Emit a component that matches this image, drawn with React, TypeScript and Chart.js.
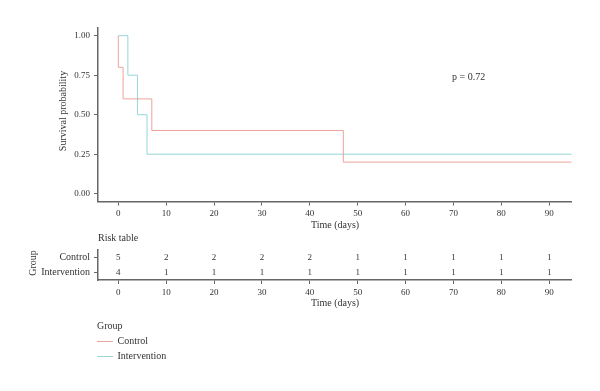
import React, { useEffect, useRef } from "react";
import { Chart, registerables } from "chart.js";

Chart.register(...registerables);

// ---- data ----
const controlTimes = [0, 0, 1, 7, 47, 94.7];
const controlSurv = [1, 0.8, 0.6, 0.4, 0.2, 0.2];
const interventionTimes = [0, 2, 4, 6, 94.7];
const interventionSurv = [1, 0.75, 0.5, 0.25, 0.25];
const yTicks = [0, 0.25, 0.5, 0.75, 1];
const xTicks = [0, 10, 20, 30, 40, 50, 60, 70, 80, 90];
const groups = ["Control", "Intervention"];
const riskControl = [5, 2, 2, 2, 2, 1, 1, 1, 1, 1];
const riskIntervention = [4, 1, 1, 1, 1, 1, 1, 1, 1, 1];
const pValueText = "p = 0.72";

const RED = "#EBA39B";
const CYAN = "#95D6D8";
const AXIS = "#666666";
const TEXT = "#333333";
const FONT = "'Liberation Serif', 'Times New Roman', serif";

const X_MIN = -4.24;
const X_MAX = 94.7;

const TOP_H = 240;
const RISK_TOP = 240;
const RISK_H = 70;

function xScaleOpts(height: number) {
  return {
    type: "linear" as const,
    min: X_MIN,
    max: X_MAX,
    afterBuildTicks: (s: any) => {
      s.ticks = xTicks.map((v) => ({ value: v }));
    },
    afterFit: (s: any) => {
      s.height = height;
    },
    grid: {
      display: true,
      drawOnChartArea: false,
      drawTicks: true,
      tickLength: 4,
      color: AXIS,
      lineWidth: 1,
    },
    border: { display: true, color: AXIS, width: 1.5 },
    ticks: {
      color: TEXT,
      font: { family: FONT, size: 9 },
      padding: 3,
      maxRotation: 0,
      autoSkip: false,
      callback: (v: any) => String(v),
    },
  };
}

const riskPlugin = {
  id: "riskText",
  afterDatasetsDraw(chart: any) {
    const { ctx, scales } = chart;
    const xs = scales.x;
    const ys = scales.y;
    ctx.save();
    ctx.fillStyle = TEXT;
    ctx.font = `9px ${FONT}`;
    ctx.textAlign = "center";
    ctx.textBaseline = "middle";
    const rows = [riskControl, riskIntervention];
    rows.forEach((row, ri) => {
      row.forEach((n, i) => {
        ctx.fillText(String(n), xs.getPixelForValue(xTicks[i]), ys.getPixelForValue(ri));
      });
    });
    ctx.restore();
  },
};

export default function App() {
  const mainRef = useRef<HTMLCanvasElement>(null);
  const riskRef = useRef<HTMLCanvasElement>(null);

  useEffect(() => {
    const main = new Chart(mainRef.current!, {
      type: "line",
      data: {
        datasets: [
          {
            label: "Control",
            data: controlTimes.map((t, i) => ({ x: t, y: controlSurv[i] })),
            borderColor: RED,
            borderWidth: 1,
            pointRadius: 0,
            stepped: "before",
            fill: false,
          },
          {
            label: "Intervention",
            data: interventionTimes.map((t, i) => ({ x: t, y: interventionSurv[i] })),
            borderColor: CYAN,
            borderWidth: 1,
            pointRadius: 0,
            stepped: "before",
            fill: false,
          },
        ],
      },
      options: {
        animation: false,
        responsive: false,
        maintainAspectRatio: false,
        layout: { padding: { left: 0, right: 600 - 571.7, top: 27.8, bottom: 0 } },
        plugins: { legend: { display: false }, tooltip: { enabled: false } },
        scales: {
          x: xScaleOpts(TOP_H - 201.6),
          y: {
            type: "linear",
            min: -0.05,
            max: 1.05,
            afterBuildTicks: (s: any) => {
              s.ticks = yTicks.map((v) => ({ value: v }));
            },
            afterFit: (s: any) => {
              s.width = 98;
            },
            grid: {
              display: true,
              drawOnChartArea: false,
              drawTicks: true,
              tickLength: 4,
              color: AXIS,
              lineWidth: 1,
            },
            border: { display: true, color: AXIS, width: 1.5 },
            ticks: {
              color: TEXT,
              font: { family: FONT, size: 9 },
              padding: 4,
              callback: (v: any) => Number(v).toFixed(2),
            },
          },
        },
      } as any,
    });

    const risk = new Chart(riskRef.current!, {
      type: "scatter",
      data: {
        labels: groups,
        datasets: [
          {
            data: [],
            pointRadius: 0,
          },
        ],
      },
      options: {
        animation: false,
        responsive: false,
        maintainAspectRatio: false,
        layout: { padding: { left: 0, right: 600 - 571.7, top: 8, bottom: 0 } },
        plugins: { legend: { display: false }, tooltip: { enabled: false } },
        scales: {
          x: xScaleOpts(RISK_H - 40),
          y: {
            type: "category",
            labels: groups,
            offset: true,
            afterFit: (s: any) => {
              s.width = 98;
            },
            grid: {
              display: true,
              drawOnChartArea: false,
              drawTicks: true,
              tickLength: 4,
              color: AXIS,
              lineWidth: 1,
              offset: false,
            },
            border: { display: true, color: AXIS, width: 1.5 },
            ticks: {
              color: TEXT,
              font: { family: FONT, size: 10 },
              padding: 4,
            },
          },
        },
      } as any,
      plugins: [riskPlugin],
    });

    return () => {
      main.destroy();
      risk.destroy();
    };
  }, []);

  const txt = (extra: React.CSSProperties): React.CSSProperties => ({
    position: "absolute",
    fontFamily: FONT,
    fontSize: 10,
    lineHeight: "10px",
    color: TEXT,
    whiteSpace: "nowrap",
    ...extra,
  });

  return (
    <div
      style={{
        position: "fixed",
        left: 0,
        top: 0,
        width: 600,
        height: 391,
        background: "#fff",
        overflow: "hidden",
      }}
    >
      <canvas
        ref={mainRef}
        width={600}
        height={TOP_H}
        style={{ position: "absolute", left: 0, top: 0, width: 600, height: TOP_H }}
      />
      <canvas
        ref={riskRef}
        width={600}
        height={RISK_H}
        style={{ position: "absolute", left: 0, top: RISK_TOP, width: 600, height: RISK_H }}
      />
      {/* main titles */}
      <div
        style={txt({
          left: 63,
          top: 111,
          transform: "translate(-50%, -50%) rotate(-90deg)",
        })}
      >
        Survival probability
      </div>
      <div style={txt({ left: 335, top: 225, transform: "translate(-50%, -50%)" })}>Time (days)</div>
      <div style={txt({ left: 452, top: 72 })}>{pValueText}</div>
      {/* risk table */}
      <div style={txt({ left: 98, top: 233 })}>Risk table</div>
      <div
        style={txt({
          left: 33,
          top: 263,
          transform: "translate(-50%, -50%) rotate(-90deg)",
        })}
      >
        Group
      </div>
      <div style={txt({ left: 335, top: 303, transform: "translate(-50%, -50%)" })}>Time (days)</div>
      {/* legend */}
      <div style={txt({ left: 97, top: 321 })}>Group</div>
      <div style={{ position: "absolute", left: 97, top: 341, width: 16, height: 1, background: RED }} />
      <div style={txt({ left: 117.5, top: 336 })}>Control</div>
      <div style={{ position: "absolute", left: 97, top: 356, width: 16, height: 1, background: CYAN }} />
      <div style={txt({ left: 117.5, top: 351 })}>Intervention</div>
    </div>
  );
}
